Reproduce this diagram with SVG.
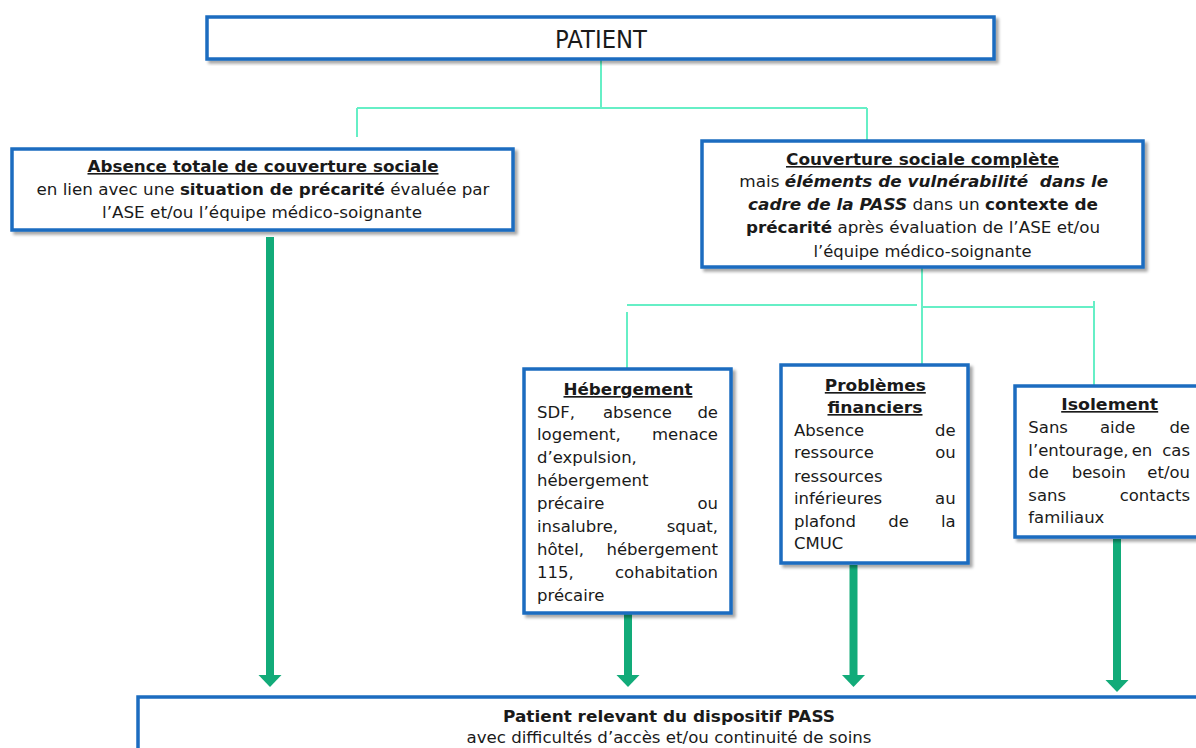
<svg xmlns="http://www.w3.org/2000/svg" width="1196" height="748" viewBox="0 0 1196 748">
<style>
text{font-family:"DejaVu Sans","Liberation Sans",sans-serif;fill:#1a1a1a;}
.box{fill:#fff;stroke:#1b6cc0;stroke-width:3.5;filter:url(#sh);}
.t{font-size:16px;}
.c{text-anchor:middle;}
.e{text-anchor:end;}
.b{font-weight:bold;}
.bi{font-weight:bold;font-style:italic;}
.u{text-decoration:underline;}
.s{font-size:16.5px;}
.teal{fill:none;stroke:#66efc6;stroke-width:2;}
.arr{fill:none;stroke:#12ab79;stroke-width:8;marker-end:url(#ah);}
</style>
<defs>
<filter id="sh" x="-5%" y="-5%" width="110%" height="120%">
<feDropShadow dx="3" dy="3" stdDeviation="1.8" flood-color="#000" flood-opacity="0.35"/>
</filter>
<linearGradient id="gg" x1="0" y1="0" x2="1" y2="0">
<stop offset="0" stop-color="#9a9a9a"/>
<stop offset="1" stop-color="#d0d0d0"/>
</linearGradient>
<marker id="ah" viewBox="0 -12 12 24" markerWidth="12" markerHeight="24" refX="0" refY="0" orient="auto" markerUnits="userSpaceOnUse">
<path d="M0,-11.5 L12,0 L0,11.5 z" fill="#12ab79"/>
</marker>
</defs>
<rect width="1196" height="748" fill="#fff"/>

<g id="connectors">
<path class="teal" d="M601 59 V108 M357 108 H867 M357 108 V137 M867 108 V140"/>
<path d="M513 160 H702" stroke="url(#gg)" stroke-width="4" fill="none"/>
<path class="teal" d="M922 253 V365 M627 305 H917 M922 307 H1094 M627 312 V369 M1094 301 V386"/>
<path class="arr" d="M270 237 V675"/>
<path class="arr" d="M628 613 V675"/>
<path class="arr" d="M853.5 565 V675"/>
<path class="arr" d="M1117 539 V680"/>
</g>

<g id="patient">
<rect class="box" x="207" y="17" width="787" height="42"/>
<text x="601" y="47.5" class="c" font-size="24" textLength="92" lengthAdjust="spacingAndGlyphs">PATIENT</text>
</g>

<g id="absence">
<rect class="box" x="12" y="149" width="501" height="81"/>
<text x="263" y="172" class="t c b u" textLength="351" lengthAdjust="spacingAndGlyphs">Absence totale de couverture sociale</text>
<text x="263" y="195" class="t c" textLength="453" lengthAdjust="spacingAndGlyphs">en lien avec une <tspan class="b">situation de précarité</tspan> évaluée par</text>
<text x="262" y="218" class="t c" textLength="320" lengthAdjust="spacingAndGlyphs">l’ASE et/ou l’équipe médico-soignante</text>
</g>

<g id="couverture">
<rect class="box" x="702" y="141" width="441" height="126"/>
<text x="922.5" y="165" class="t c b u" textLength="273" lengthAdjust="spacingAndGlyphs">Couverture sociale complète</text>
<text x="923.8" y="187" class="t c" textLength="369" lengthAdjust="spacingAndGlyphs">mais <tspan class="bi">éléments de vulnérabilité&#160; dans le</tspan></text>
<text x="923" y="210" class="t c" textLength="350" lengthAdjust="spacingAndGlyphs"><tspan class="bi">cadre de la PASS</tspan> dans un <tspan class="b">contexte de</tspan></text>
<text x="923" y="233" class="t c" textLength="354" lengthAdjust="spacingAndGlyphs"><tspan class="b">précarité</tspan> après évaluation de l’ASE et/ou</text>
<text x="922.5" y="256.5" class="t c" textLength="218" lengthAdjust="spacingAndGlyphs">l’équipe médico-soignante</text>
</g>

<g id="hebergement">
<rect class="box" x="524" y="369" width="207" height="244"/>
<text x="628" y="395" class="s c b u" textLength="129" lengthAdjust="spacingAndGlyphs">Hébergement</text>
<g class="s">
<text x="537" y="417.5">SDF,</text><text x="603" y="417.5">absence</text><text x="718" y="417.5" class="e">de</text>
<text x="537" y="440.4">logement,</text><text x="718" y="440.4" class="e">menace</text>
<text x="537" y="463.3">d’expulsion,</text>
<text x="537" y="486.2">hébergement</text>
<text x="537" y="509.1">précaire</text><text x="718" y="509.1" class="e">ou</text>
<text x="537" y="532">insalubre,</text><text x="718" y="532" class="e">squat,</text>
<text x="537" y="554.9">hôtel,</text><text x="718" y="554.9" class="e">hébergement</text>
<text x="537" y="577.8">115,</text><text x="718" y="577.8" class="e">cohabitation</text>
<text x="537" y="600.7">précaire</text>
</g>
</g>

<g id="financiers">
<rect class="box" x="781" y="365" width="187" height="198"/>
<text x="875.3" y="391" class="s c b u" textLength="101" lengthAdjust="spacingAndGlyphs">Problèmes</text>
<text x="875" y="413" class="s c b u" textLength="95" lengthAdjust="spacingAndGlyphs">financiers</text>
<g class="s">
<text x="794" y="435.7">Absence</text><text x="955.7" y="435.7" class="e">de</text>
<text x="794" y="458.3">ressource</text><text x="955.7" y="458.3" class="e">ou</text>
<text x="794" y="481.7">ressources</text>
<text x="794" y="504.3">inférieures</text><text x="955.7" y="504.3" class="e">au</text>
<text x="794" y="527.3">plafond</text><text x="888.3" y="527.3">de</text><text x="955.7" y="527.3" class="e">la</text>
<text x="794" y="549.3">CMUC</text>
</g>
</g>

<g id="isolement">
<rect class="box" x="1015" y="386" width="210" height="151"/>
<text x="1109.7" y="410" class="s c b u" textLength="97" lengthAdjust="spacingAndGlyphs">Isolement</text>
<g class="s">
<text x="1028.3" y="433.3">Sans</text><text x="1100" y="433.3">aide</text><text x="1190" y="433.3" class="e">de</text>
<text x="1028.3" y="456">l’entourage,</text><text x="1131.7" y="456">en</text><text x="1190" y="456" class="e">cas</text>
<text x="1028.3" y="478.3">de</text><text x="1071.7" y="478.3">besoin</text><text x="1190" y="478.3" class="e">et/ou</text>
<text x="1028.3" y="501">sans</text><text x="1190" y="501" class="e">contacts</text>
<text x="1028.3" y="523.3">familiaux</text>
</g>
</g>

<g id="pass">
<rect class="box" x="138" y="697" width="1100" height="100"/>
<text x="669" y="721.7" class="t c b" textLength="332" lengthAdjust="spacingAndGlyphs">Patient relevant du dispositif PASS</text>
<text x="669" y="743.3" class="t c" textLength="405" lengthAdjust="spacingAndGlyphs">avec difficultés d’accès et/ou continuité de soins</text>
</g>
</svg>
